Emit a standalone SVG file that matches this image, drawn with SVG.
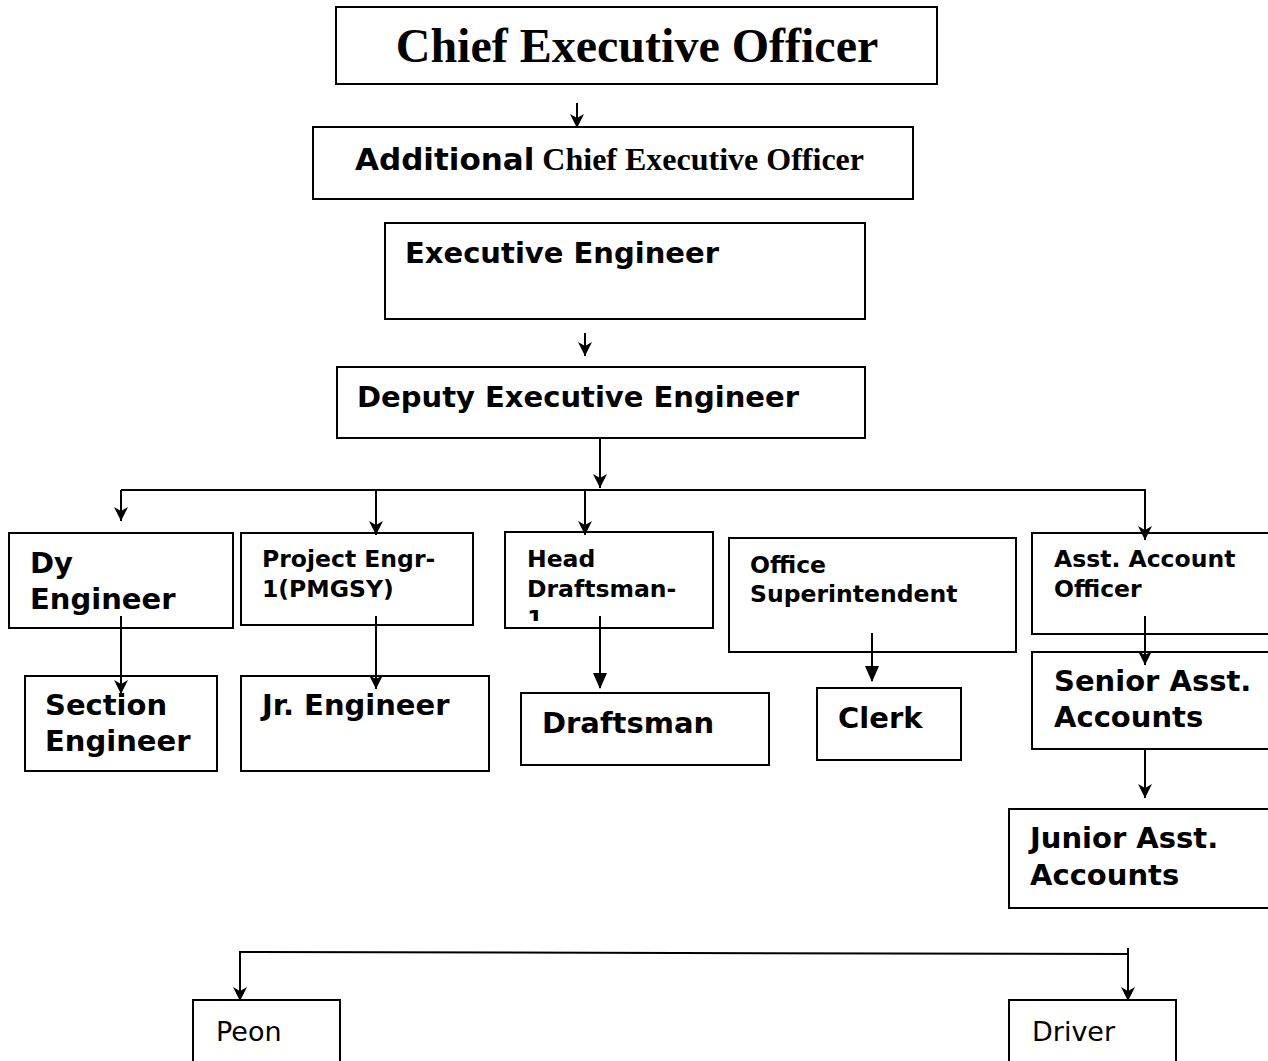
<svg xmlns="http://www.w3.org/2000/svg" width="1268" height="1061" viewBox="0 0 1268 1061">
<style>
.box{fill:#fff;stroke:#000;stroke-width:2}
.t{font-family:"DejaVu Sans",Verdana,sans-serif;font-weight:bold;fill:#000}
.l{font-size:29px}
.s{font-size:23.5px}
.tm{font-family:"Liberation Serif","Times New Roman",serif;font-weight:bold;fill:#000}
.n{font-family:"DejaVu Sans",sans-serif;font-size:27px;fill:#000}
.c{fill:none;stroke:#000;stroke-width:2}
</style>
<defs>
<marker id="open" markerUnits="userSpaceOnUse" markerWidth="18" markerHeight="18" viewBox="0 0 18 18" refX="16" refY="9" orient="auto">
<path d="M2,2 L16,9 L2,16 L6,9 Z" fill="#000"/>
</marker>
<marker id="fill" markerUnits="userSpaceOnUse" markerWidth="18" markerHeight="18" viewBox="0 0 18 18" refX="16" refY="9" orient="auto">
<path d="M1,2 L17,9 L1,16 Z" fill="#000"/>
</marker>
<clipPath id="hdclip"><rect x="505" y="532" width="208" height="89"/></clipPath>
</defs>
<g id="ceo"><rect class="box" x="336" y="7" width="601" height="77"/><text class="tm" x="637" y="62" font-size="48" text-anchor="middle">Chief Executive Officer</text></g>
<g id="aceo"><rect class="box" x="313" y="127" width="600" height="72"/><text x="355" y="170"><tspan class="t" font-size="31">Additional</tspan><tspan class="tm" font-size="32"> Chief Executive Officer</tspan></text></g>
<g id="ee"><rect class="box" x="385" y="223" width="480" height="96"/><text class="t l" x="405" y="263">Executive Engineer</text></g>
<g id="dee"><rect class="box" x="337" y="367" width="528" height="71"/><text class="t l" x="357" y="407">Deputy Executive Engineer</text></g>
<g id="dy"><rect class="box" x="9" y="533" width="224" height="95"/><text class="t l" x="30" y="573">Dy</text><text class="t l" x="30" y="609">Engineer</text></g>
<g id="pe"><rect class="box" x="241" y="533" width="232" height="92"/><text class="t s" x="262" y="567">Project Engr-</text><text class="t s" x="262" y="597">1(PMGSY)</text></g>
<g id="hd"><rect class="box" x="505" y="532" width="208" height="96"/><g clip-path="url(#hdclip)"><text class="t s" x="527" y="567">Head</text><text class="t s" x="527" y="597">Draftsman-</text><text class="t s" x="527" y="627">1</text></g></g>
<g id="os"><rect class="box" x="729" y="538" width="287" height="114"/><text class="t s" x="750" y="573">Office</text><text class="t s" x="750" y="602">Superintendent</text></g>
<g id="aao"><rect class="box" x="1032" y="533" width="240" height="101"/><text class="t s" x="1054" y="567">Asst. Account</text><text class="t s" x="1054" y="597">Officer</text></g>
<g id="se"><rect class="box" x="25" y="676" width="192" height="95"/><text class="t l" x="45" y="715">Section</text><text class="t l" x="45" y="751">Engineer</text></g>
<g id="je"><rect class="box" x="241" y="676" width="248" height="95"/><text class="t l" x="262" y="715">Jr. Engineer</text></g>
<g id="dm"><rect class="box" x="521" y="693" width="248" height="72"/><text class="t l" x="542" y="733">Draftsman</text></g>
<g id="cl"><rect class="box" x="817" y="688" width="144" height="72"/><text class="t l" x="838" y="728">Clerk</text></g>
<g id="saa"><rect class="box" x="1032" y="652" width="240" height="97"/><text class="t l" x="1054" y="691">Senior Asst.</text><text class="t l" x="1054" y="727">Accounts</text></g>
<g id="jaa"><rect class="box" x="1009" y="809" width="263" height="99"/><text class="t l" x="1030" y="848">Junior Asst.</text><text class="t l" x="1030" y="885">Accounts</text></g>
<g id="peon"><rect class="box" x="193" y="1000" width="147" height="70"/><text class="n" x="216" y="1041">Peon</text></g>
<g id="driver"><rect class="box" x="1009" y="1000" width="167" height="70"/><text class="n" x="1032" y="1041">Driver</text></g>
<g id="connectors">
<line class="c" x1="577" y1="103" x2="577" y2="128" stroke-width="1.5" marker-end="url(#open)"/>
<line class="c" x1="585" y1="333" x2="585" y2="356" stroke-width="1.5" marker-end="url(#open)"/>
<line class="c" x1="600" y1="438" x2="600" y2="488" marker-end="url(#open)"/>
<polyline class="c" points="121,490 1145,490 1145,540" marker-end="url(#open)"/>
<line class="c" x1="121" y1="490" x2="121" y2="521" marker-end="url(#open)"/>
<line class="c" x1="376" y1="490" x2="376" y2="535" marker-end="url(#open)"/>
<line class="c" x1="585" y1="490" x2="585" y2="535" marker-end="url(#open)"/>
<line class="c" x1="121" y1="616" x2="121" y2="694" marker-end="url(#open)"/>
<line class="c" x1="376" y1="616" x2="376" y2="689" marker-end="url(#open)"/>
<line class="c" x1="600" y1="616" x2="600" y2="688" marker-end="url(#fill)"/>
<line class="c" x1="872" y1="633" x2="872" y2="681" marker-end="url(#fill)"/>
<line class="c" x1="1145" y1="616" x2="1145" y2="665" marker-end="url(#open)"/>
<line class="c" x1="1145" y1="750" x2="1145" y2="798" marker-end="url(#open)"/>
<polyline class="c" points="240,1001 240,952 1128,954"/>
<line class="c" x1="240" y1="980" x2="240" y2="1001" marker-end="url(#open)"/>
<line class="c" x1="1128" y1="948" x2="1128" y2="1001" marker-end="url(#open)"/>
</g>
</svg>
